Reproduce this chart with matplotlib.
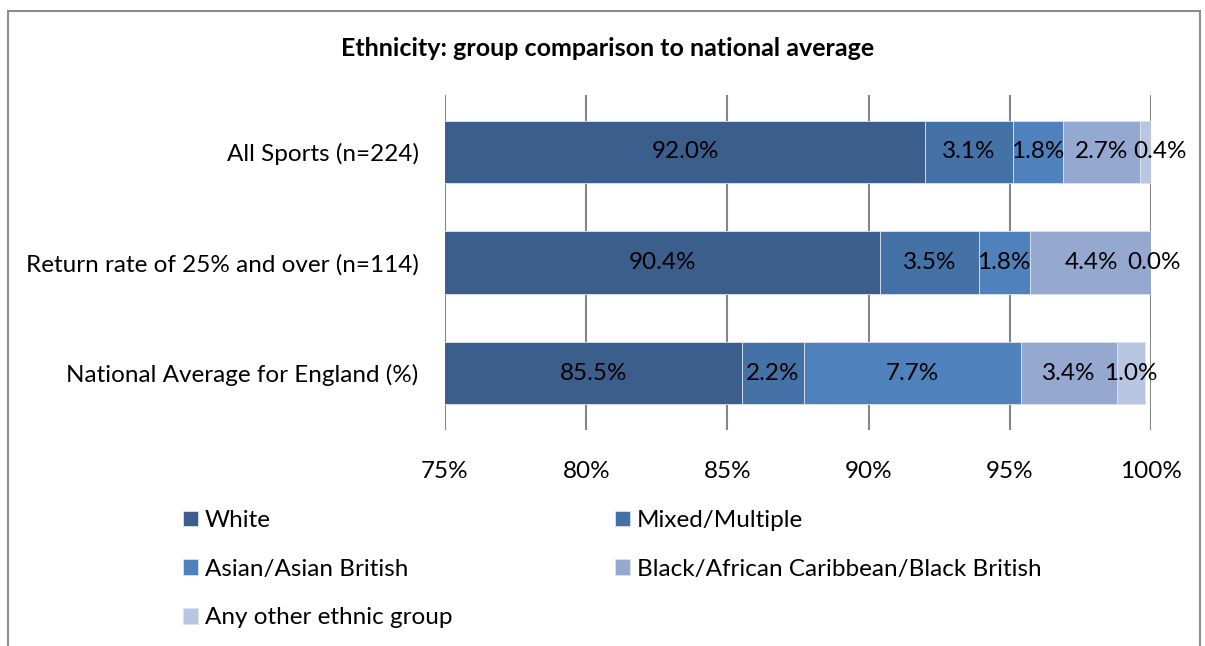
import numpy as np
import matplotlib.pyplot as plt
from matplotlib.patches import Rectangle
from matplotlib.ticker import FuncFormatter

# Data (percent of each group)
categories = ['All Sports (n=224)',
              'Return rate of 25% and over (n=114)',
              'National Average for England (%)']
groups = ['White', 'Mixed/Multiple', 'Asian/Asian British',
          'Black/African Caribbean/Black British', 'Any other ethnic group']
white = [92.0, 90.4, 85.5]
mixed = [3.1, 3.5, 2.2]
asian = [1.8, 1.8, 7.7]
black = [2.7, 4.4, 3.4]
other = [0.4, 0.0, 1.0]
x_ticks = [75, 80, 85, 90, 95, 100]

colors = ['#3B5E8C', '#4472A6', '#4F81BD', '#95A9D0', '#B9C6E2']

plt.rcParams['font.family'] = ['Lato', 'DejaVu Sans']
fs = 17.5
xmin, xmax = x_ticks[0], x_ticks[-1]

fig = plt.figure(figsize=(12.05, 6.46), dpi=100)
ax = fig.add_axes([445 / 1205, 1 - 430 / 646, 706 / 1205, 335 / 646])

series = [white, mixed, asian, black, other]
y = np.arange(len(categories))
left = np.zeros(len(categories))
label_pos = [[] for _ in categories]
for vals, col, name in zip(series, colors, groups):
    vals = np.array(vals)
    ax.barh(y, vals, left=left, height=0.56, color=col, edgecolor='#DCE3EE',
            linewidth=0.6, label=name, zorder=3)
    for i, v in enumerate(vals):
        # centre of the visible part of the segment
        lo = max(left[i], xmin)
        label_pos[i].append(((lo + left[i] + v) / 2, v))
    left += vals

# data labels, nudged right when they would run into the previous one
for i, items in enumerate(label_pos):
    prev = None
    for cx, v in items:
        if prev is not None and cx - prev < 2.07:
            cx = prev + 2.07
        ax.text(cx, i, f'{v:.1f}%', ha='center', va='center', fontsize=fs,
                color='black', zorder=4, clip_on=False)
        prev = cx

ax.set_xlim(xmin, xmax)
ax.set_ylim(2.51, -0.51)
ax.set_xticks(x_ticks)
ax.xaxis.set_major_formatter(FuncFormatter(lambda v, p: f'{v:.0f}%'))
ax.set_yticks(y)
ax.set_yticklabels(categories)
ax.tick_params(axis='both', length=0, labelsize=fs)
ax.tick_params(axis='x', pad=22)
ax.tick_params(axis='y', pad=19)
ax.grid(axis='x', color='#868686', linewidth=1.5, zorder=0)
for s in ax.spines.values():
    s.set_visible(False)

fig.text(608 / 1205, 1 - 48 / 646, 'Ethnicity: group comparison to national average',
         ha='center', va='center', fontsize=18, fontweight='bold')

# legend filled row by row like the original (White, Mixed / Asian, Black / Other)
handles, labels = ax.get_legend_handles_labels()
order = [0, 2, 4, 1, 3]
fig.legend([handles[k] for k in order], [labels[k] for k in order],
           ncol=2, loc='upper left',
           bbox_to_anchor=(183 / 1205, 1 - 510 / 646), frameon=False,
           fontsize=fs, handlelength=0.6, handleheight=0.6, handletextpad=0.3,
           columnspacing=6.7, labelspacing=1.14, borderaxespad=0, borderpad=0)

# outer chart frame
fig.patches.append(Rectangle((8 / 1205, -0.05), 1192 / 1205, 1.05 - 11 / 646,
                             transform=fig.transFigure, fill=False,
                             edgecolor='#8C8C8C', linewidth=1.5))

plt.savefig('out.png', dpi=100)
